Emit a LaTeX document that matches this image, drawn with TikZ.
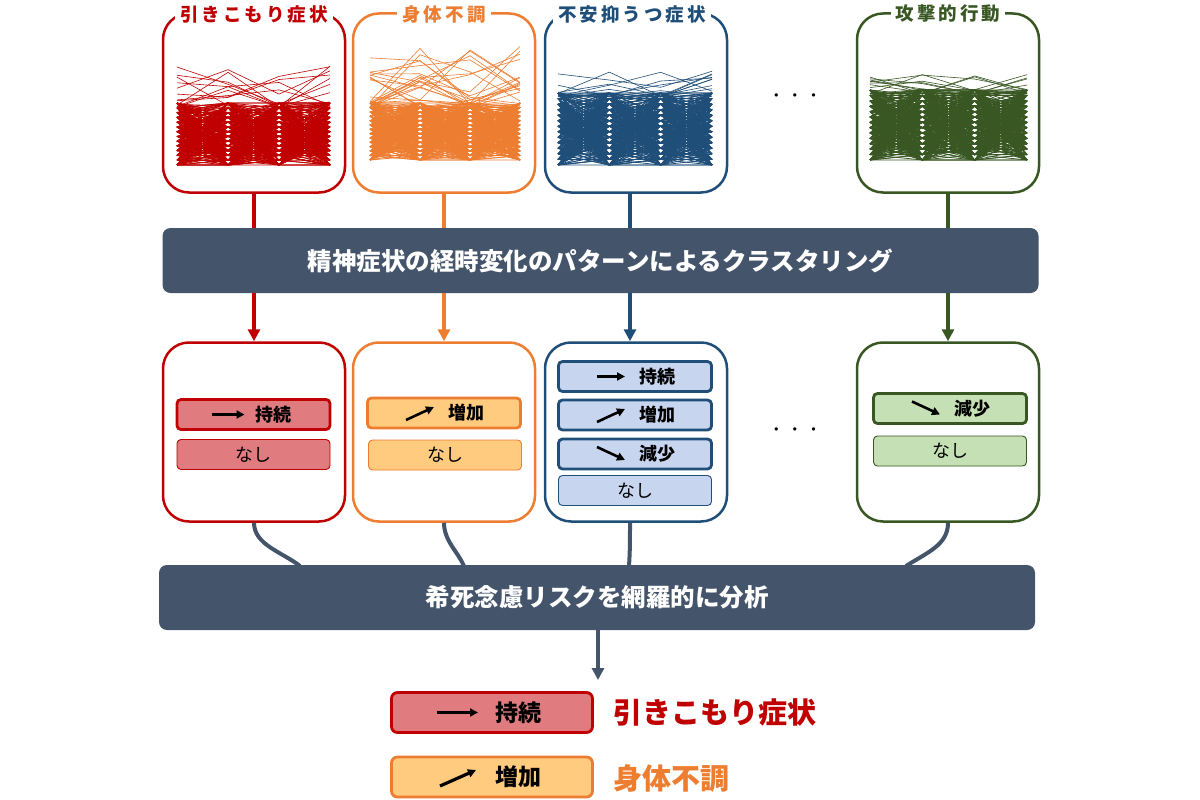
\documentclass[tikz,border=0pt]{standalone}
\usepackage{fontspec}
\setmainfont{Noto Sans CJK JP}
\usetikzlibrary{arrows.meta}
\definecolor{cred}{HTML}{C00000}
\definecolor{cora}{HTML}{ED7D31}
\definecolor{cblu}{HTML}{1F4E79}
\definecolor{cgrn}{HTML}{385723}
\definecolor{lred}{HTML}{E07B80}
\definecolor{lora}{HTML}{FFCB7F}
\definecolor{lblu}{HTML}{C7D5EF}
\definecolor{lgrn}{HTML}{C5E0B4}
\definecolor{slate}{HTML}{44546A}
\tikzset{
  panel/.style={draw, line width=2.5pt, rounded corners=26pt, minimum width=182pt, minimum height=179pt, fill=white},
  ptitle/.style={fill=white, inner xsep=5pt, inner ysep=1pt, font=\bfseries\fontsize{18.5}{18.5}\selectfont},
  bar/.style={fill=slate, rounded corners=8pt, text=white, font=\bfseries\fontsize{24.5}{24.5}\selectfont},
  btn/.style={line width=2.8pt, rounded corners=4pt, minimum width=153pt, minimum height=30pt},
  nbtn/.style={line width=0.9pt, rounded corners=4pt, minimum width=153pt, minimum height=30pt, font=\fontsize{18}{18}\selectfont},
  btxt/.style={font=\bfseries\fontsize{18}{18}\selectfont},
  icon/.style={line width=2.6pt, -{Triangle[length=8pt,width=8pt]}},
  link/.style={line width=4pt},
  arr/.style={line width=4pt, -{Triangle[length=12pt,width=12pt]}},
  dots/.style={font=\fontsize{16}{16}\selectfont},
}
\newcommand\spag[9]{%
  % #1 xl #2 xr #3 ybot #4 densetop #5 color #6 sparsetop #7 seed #8 ndense #9 nsparse
  \pgfmathsetseed{#7}%
  \pgfmathsetmacro\xa{#1}\pgfmathsetmacro\xb{#1+(#2-#1)/3}%
  \pgfmathsetmacro\xc{#1+2*(#2-#1)/3}\pgfmathsetmacro\xd{#2}%
  \foreach \i in {1,...,#8}{%
    \pgfmathsetmacro\ya{#3-(#3-#4)*int(rnd*14)/13}%
    \pgfmathsetmacro\yb{#3-(#3-#4)*int(rnd*14)/13}%
    \pgfmathsetmacro\yc{#3-(#3-#4)*int(rnd*14)/13}%
    \pgfmathsetmacro\yd{#3-(#3-#4)*int(rnd*14)/13}%
    \draw[#5, line width=0.8pt] (\xa,\ya) -- (\xb,\yb) -- (\xc,\yc) -- (\xd,\yd);
  }%
  \foreach \i in {1,...,#9}{%
    \pgfmathsetmacro\ya{#4+4-(#4-#6)*rnd^2.5}%
    \pgfmathsetmacro\yb{#4+4-(#4-#6)*rnd^1.5}%
    \pgfmathsetmacro\yc{#4+4-(#4-#6)*rnd^3}%
    \pgfmathsetmacro\yd{#4+4-(#4-#6)*rnd^1.5}%
    \draw[#5, line width=0.6pt] (\xa,\ya) -- (\xb,\yb) -- (\xc,\yc) -- (\xd,\yd);
  }%
}
\begin{document}
\begin{tikzpicture}[x=1pt,y=-1pt]
\useasboundingbox (0,0) rectangle (1200,800);
% top panels
\node[panel, draw=cred] (p1) at (254,103) {};
\node[panel, draw=cora] (p2) at (444,103) {};
\node[panel, draw=cblu] (p3) at (636,103) {};
\node[panel, draw=cgrn] (p4) at (948,103) {};
\node[ptitle, text=cred] (t1) at (254,14) {引\,き\,こ\,も\,り\,症\,状};
\node[ptitle, text=cora] (t2) at (444,14) {身\,体\,不\,調};
\node[ptitle, text=cblu] (t3) at (632,14) {不\,安\,抑\,う\,つ\,症\,状};
\node[ptitle, text=cgrn] (t4) at (948,14) {攻\,撃\,的\,行\,動};
\spag{177}{330}{165}{103}{cred}{62}{11}{300}{12}
\spag{370}{520}{160}{103}{cora}{40}{23}{300}{22}
\spag{558}{712}{165}{93}{cblu}{66}{37}{330}{12}
\spag{870}{1027}{160}{90}{cgrn}{68}{51}{330}{14}
\node[dots] (d1) at (795,98) {・\,・\,・};
% bar 1
\node[bar, minimum width=876pt, minimum height=65pt] (bar1) at (600.5,260.5) {精神症状の経時変化のパターンによるクラスタリング};
\draw[link, cred] (p1.south) -- (p1.south |- bar1.north);
\draw[link, cora] (p2.south) -- (p2.south |- bar1.north);
\draw[link, cblu] ([xshift=-6pt]p3.south) -- ([xshift=-6pt]p3.south |- bar1.north);
\draw[link, cgrn] (p4.south) -- (p4.south |- bar1.north);
% second row
\node[panel, draw=cred] (q1) at (254,432) {};
\node[panel, draw=cora] (q2) at (444,432) {};
\node[panel, draw=cblu] (q3) at (636,432) {};
\node[panel, draw=cgrn] (q4) at (948,432) {};
\draw[arr, cred] (p1.south |- bar1.south) -- (q1.north);
\draw[arr, cora] (p2.south |- bar1.south) -- (q2.north);
\draw[arr, cblu] ([xshift=-6pt]p3.south |- bar1.south) -- ([xshift=-6pt]q3.north);
\draw[arr, cgrn] (p4.south |- bar1.south) -- (q4.north);
\node[dots] (d2) at (795,432) {・\,・\,・};
% red buttons
\node[btn, fill=lred, draw=cred] (r1) at (253.5,414.5) {};
\draw[icon] ([xshift=-42pt]r1.center) -- ([xshift=-9pt]r1.center);
\node[btxt] at ([xshift=20pt]r1.center) {持続};
\node[nbtn, fill=lred, draw=cred] (r2) at (253.5,454.5) {なし};
% orange buttons
\node[btn, fill=lora, draw=cora] (o1) at (444,413) {};
\draw[icon] ([xshift=-38pt,yshift=-7pt]o1.center) -- ([xshift=-10pt,yshift=6pt]o1.center);
\node[btxt] at ([xshift=22pt]o1.center) {増加};
\node[nbtn, fill=lora, draw=cora] (o2) at (445,455) {なし};
% blue buttons
\node[btn, fill=lblu, draw=cblu] (b1) at (635,376.5) {};
\draw[icon] ([xshift=-38pt]b1.center) -- ([xshift=-10pt]b1.center);
\node[btxt] at ([xshift=22pt]b1.center) {持続};
\node[btn, fill=lblu, draw=cblu] (b2) at (635,415) {};
\draw[icon] ([xshift=-38pt,yshift=-7pt]b2.center) -- ([xshift=-10pt,yshift=6pt]b2.center);
\node[btxt] at ([xshift=22pt]b2.center) {増加};
\node[btn, fill=lblu, draw=cblu] (b3) at (635,454) {};
\draw[icon] ([xshift=-38pt,yshift=7pt]b3.center) -- ([xshift=-10pt,yshift=-6pt]b3.center);
\node[btxt] at ([xshift=22pt]b3.center) {減少};
\node[nbtn, fill=lblu, draw=cblu] (b4) at (635,490.5) {なし};
% green buttons
\node[btn, fill=lgrn, draw=cgrn] (g1) at (950,408.5) {};
\draw[icon] ([xshift=-38pt,yshift=7pt]g1.center) -- ([xshift=-10pt,yshift=-6pt]g1.center);
\node[btxt] at ([xshift=22pt]g1.center) {減少};
\node[nbtn, fill=lgrn, draw=cgrn] (g2) at (950,451) {なし};
% bar 2
\node[bar, minimum width=876pt, minimum height=65pt] (bar2) at (597,597.5) {希死念慮リスクを網羅的に分析};
\coordinate (e1) at (300,566);
\coordinate (e2) at (464,566);
\coordinate (e3) at (629,566);
\coordinate (e4) at (906,566);
\draw[link, slate] (q1.south) .. controls +(0,22) and +(-18,-14) .. (e1);
\draw[link, slate] (q2.south) .. controls +(0,18) and +(-6,-14) .. (e2);
\draw[link, slate] ([xshift=-6pt]q3.south) .. controls +(0,16) and +(1,-14) .. (e3);
\draw[link, slate] (q4.south) .. controls +(0,22) and +(22,-14) .. (e4);
\coordinate (a0) at (598,680);
\draw[arr, slate] (bar2.south -| a0) -- (a0);
% legend
\node[btn, fill=lred, draw=cred, minimum width=201pt, minimum height=40pt, rounded corners=6pt] (l1) at (492,712.5) {};
\draw[icon, line width=3.2pt] ([xshift=-55pt]l1.center) -- ([xshift=-14pt]l1.center);
\node[font=\bfseries\fontsize{23}{23}\selectfont] at ([xshift=26pt]l1.center) {持続};
\node[anchor=west, text=cred, font=\bfseries\fontsize{29}{29}\selectfont] (lt1) at (610,712) {引きこもり症状};
\node[btn, fill=lora, draw=cora, minimum width=201pt, minimum height=40pt, rounded corners=6pt] (l2) at (492,777) {};
\draw[icon, line width=3.2pt] ([xshift=-52pt,yshift=-9pt]l2.center) -- ([xshift=-16pt,yshift=7pt]l2.center);
\node[font=\bfseries\fontsize{23}{23}\selectfont] at ([xshift=26pt]l2.center) {増加};
\node[anchor=west, text=cora, font=\bfseries\fontsize{29}{29}\selectfont] (lt2) at (610,778) {身体不調};
\end{tikzpicture}
\end{document}
